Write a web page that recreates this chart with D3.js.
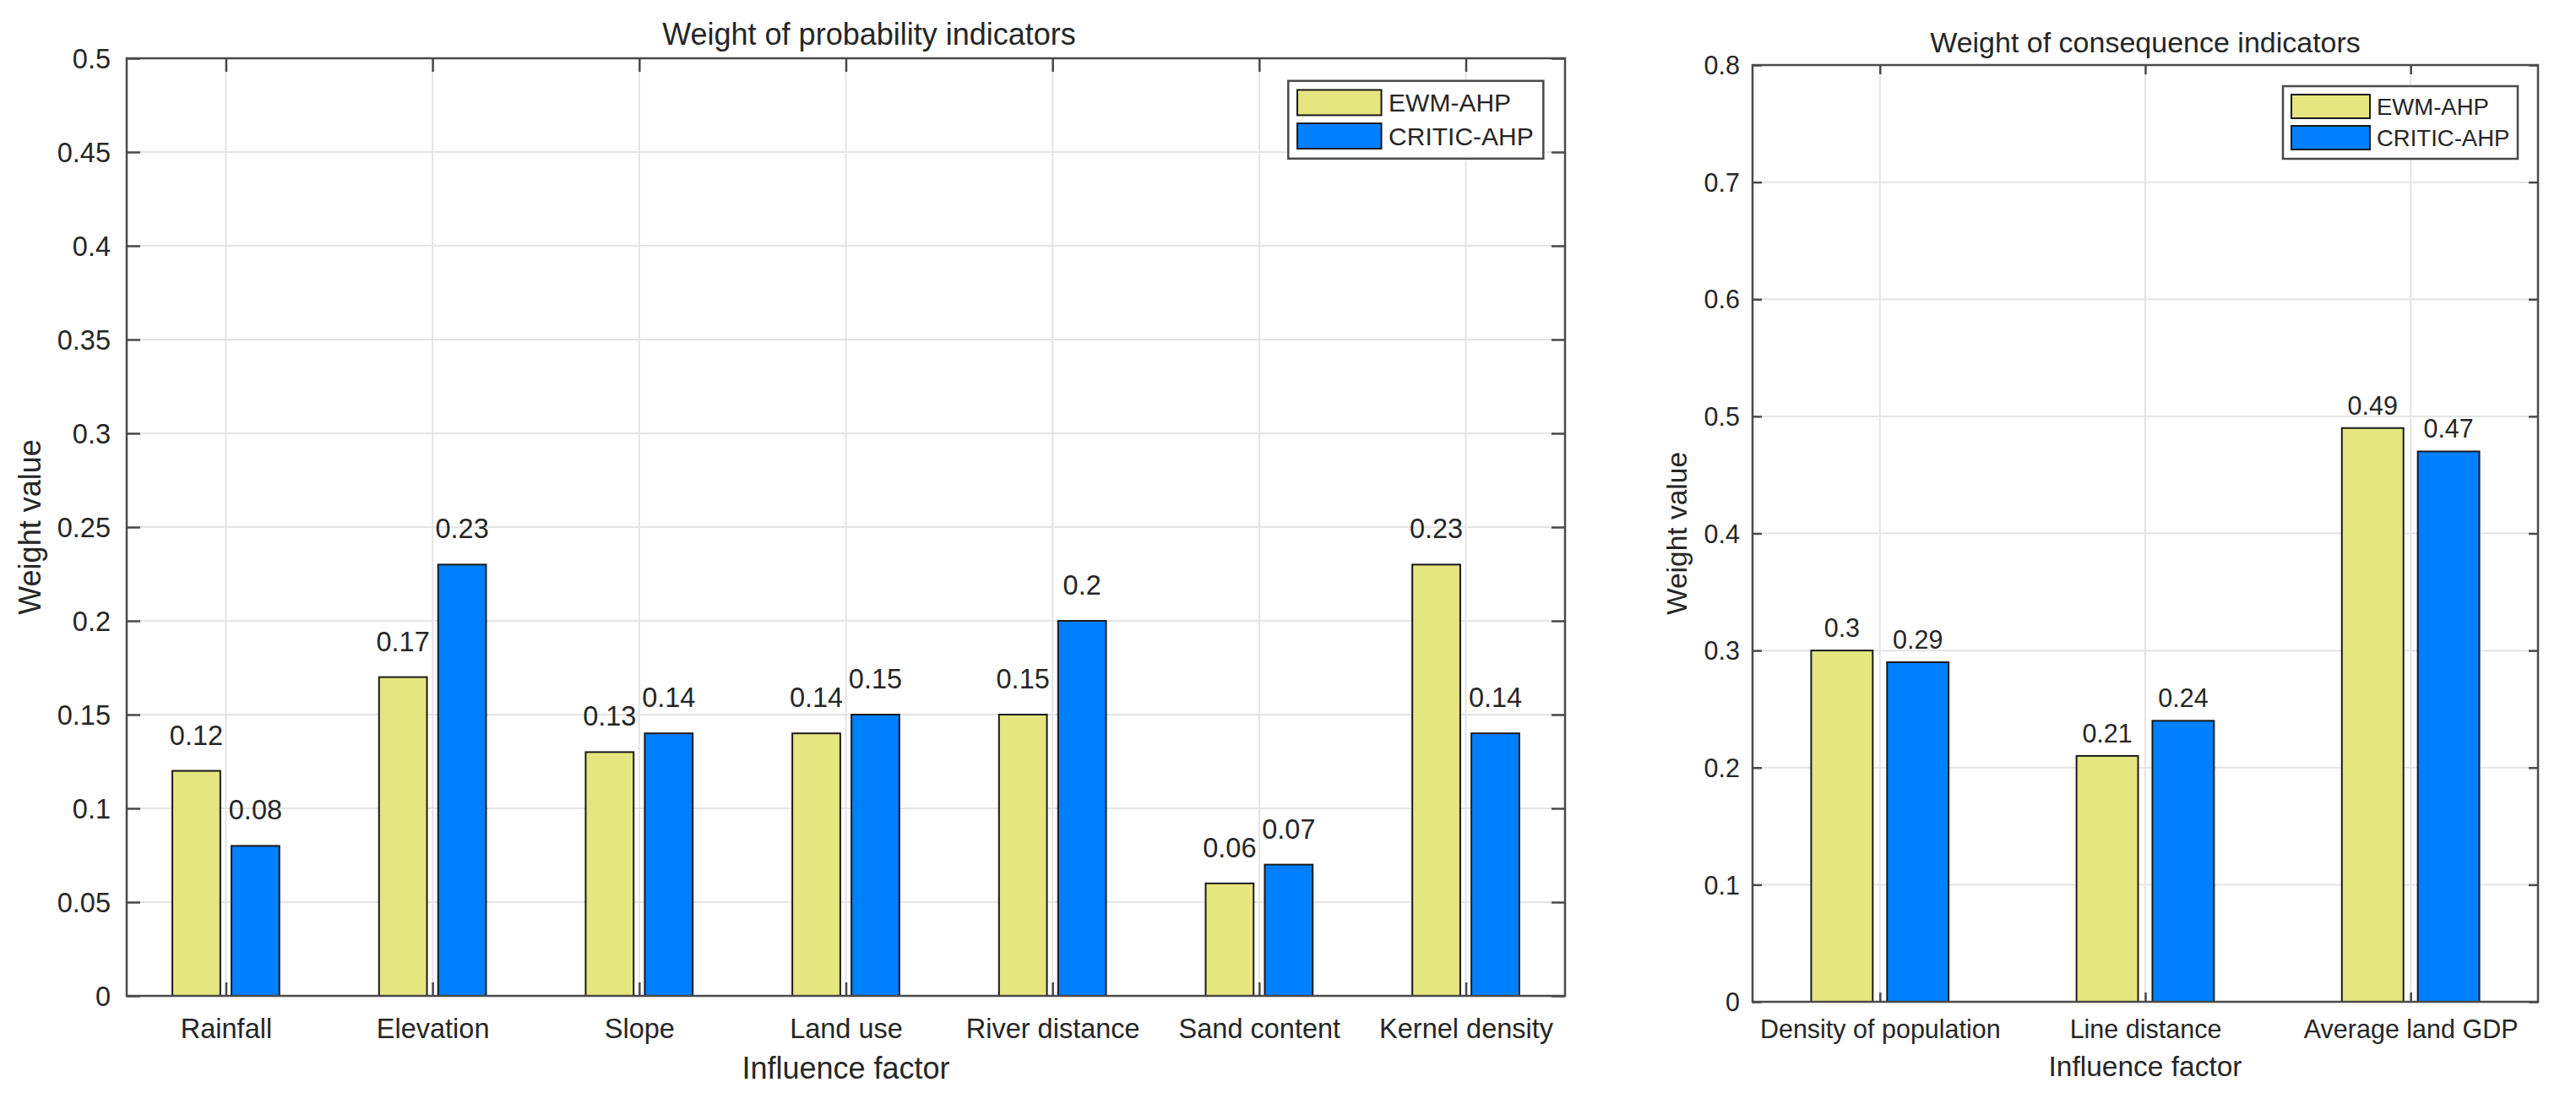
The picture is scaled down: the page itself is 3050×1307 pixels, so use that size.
<!DOCTYPE html>
<html>
<head>
<meta charset="utf-8">
<script src="https://cdn.jsdelivr.net/npm/d3@7"></script>
<style>
  body { margin: 0; background: #ffffff; }
  svg text { font-family: "Liberation Sans", Arial, sans-serif; fill: #262626; }
</style>
</head>
<body>
<svg id="chart" width="3050" height="1307"></svg>
<script>
// ---- data ----
const seriesNames = ["EWM-AHP", "CRITIC-AHP"];
const seriesColors = ["#e6e680", "#0080ff"];

const probCategories = ["Rainfall", "Elevation", "Slope", "Land use", "River distance", "Sand content", "Kernel density"];
const probEwm = [0.12, 0.17, 0.13, 0.14, 0.15, 0.06, 0.23];
const probCritic = [0.08, 0.23, 0.14, 0.15, 0.2, 0.07, 0.14];
const probTicks = [0, 0.05, 0.1, 0.15, 0.2, 0.25, 0.3, 0.35, 0.4, 0.45, 0.5];

const consCategories = ["Density of population", "Line distance", "Average land GDP"];
const consEwm = [0.3, 0.21, 0.49];
const consCritic = [0.29, 0.24, 0.47];
const consTicks = [0, 0.1, 0.2, 0.3, 0.4, 0.5, 0.6, 0.7, 0.8];

const svg = d3.select("#chart");

// MATLAB-like grouped bar chart (box on, grid on, ticks pointing in)
function drawChart(cfg) {
  const axisColor = "#4a4a4a";
  const n = cfg.categories.length;
  const yMax = d3.max(cfg.ticks);

  const x = d3.scaleLinear().domain([0.52, n + 0.48]).range([cfg.left, cfg.right]);
  const y = d3.scaleLinear().domain([0, yMax]).range([cfg.bottom, cfg.top]);

  const g = svg.append("g").attr("class", "panel");

  // grid
  g.append("g").selectAll("line.hgrid")
    .data(cfg.ticks)
    .enter().append("line")
    .attr("x1", cfg.left).attr("x2", cfg.right)
    .attr("y1", d => y(d)).attr("y2", d => y(d))
    .attr("stroke", "#e4e4e4").attr("stroke-width", 2);

  g.append("g").selectAll("line.vgrid")
    .data(d3.range(1, n + 1))
    .enter().append("line")
    .attr("x1", d => x(d)).attr("x2", d => x(d))
    .attr("y1", cfg.top).attr("y2", cfg.bottom)
    .attr("stroke", "#e4e4e4").attr("stroke-width", 2);

  // bars: two series, offset either side of the category
  const offsets = [-0.143, 0.143];
  const barW = x(1 + 0.232) - x(1);
  const series = [cfg.ewm, cfg.critic];

  series.forEach((vals, s) => {
    g.append("g").selectAll("rect")
      .data(vals)
      .enter().append("rect")
      .attr("x", (d, i) => x(i + 1 + offsets[s]) - barW / 2)
      .attr("y", d => y(d))
      .attr("width", barW)
      .attr("height", d => y(0) - y(d))
      .attr("fill", seriesColors[s])
      .attr("stroke", "#1a1a1a")
      .attr("stroke-width", 2);

    // value labels on top of each bar
    g.append("g").selectAll("text")
      .data(vals)
      .enter().append("text")
      .attr("x", (d, i) => x(i + 1 + offsets[s]))
      .attr("y", d => y(d) - cfg.valueGap)
      .attr("text-anchor", "middle")
      .attr("font-size", cfg.tickFont)
      .text(d => String(d));
  });

  // axes, ticks drawn inward like MATLAB
  const yAxisL = d3.axisLeft(y).tickValues(cfg.ticks).tickSizeInner(-cfg.tickLen).tickSizeOuter(0)
    .tickPadding(cfg.yTickPad).tickFormat(d => String(d));
  const yAxisR = d3.axisRight(y).tickValues(cfg.ticks).tickSizeInner(-cfg.tickLen).tickSizeOuter(0).tickFormat("");
  const xAxisB = d3.axisBottom(x).tickValues(d3.range(1, n + 1)).tickSizeInner(-cfg.tickLen).tickSizeOuter(0)
    .tickFormat(d => cfg.categories[d - 1]);
  const xAxisT = d3.axisTop(x).tickValues(d3.range(1, n + 1)).tickSizeInner(-cfg.tickLen).tickSizeOuter(0).tickFormat("");

  const axL = g.append("g").attr("transform", `translate(${cfg.left},0)`).call(yAxisL);
  const axR = g.append("g").attr("transform", `translate(${cfg.right},0)`).call(yAxisR);
  const axB = g.append("g").attr("transform", `translate(0,${cfg.bottom})`).call(xAxisB);
  const axT = g.append("g").attr("transform", `translate(0,${cfg.top})`).call(xAxisT);

  [axL, axR, axB, axT].forEach(a => {
    a.select(".domain").remove();
    a.attr("font-family", null).attr("font-size", cfg.tickFont);
    a.selectAll(".tick line").attr("stroke", axisColor).attr("stroke-width", 2.5);
    a.selectAll(".tick text").attr("fill", "#262626");
  });
  axL.selectAll(".tick text").attr("dy", "0.35em");
  axB.selectAll(".tick text").attr("y", cfg.xLabelY - cfg.bottom).attr("dy", null);

  // axes box
  g.append("rect")
    .attr("x", cfg.left).attr("y", cfg.top)
    .attr("width", cfg.right - cfg.left).attr("height", cfg.bottom - cfg.top)
    .attr("fill", "none").attr("stroke", axisColor).attr("stroke-width", 2.5);

  // titles
  g.append("text")
    .attr("x", cfg.titleX).attr("y", cfg.titleY)
    .attr("text-anchor", "middle").attr("font-size", cfg.titleFont)
    .text(cfg.title);

  g.append("text")
    .attr("x", (cfg.left + cfg.right) / 2).attr("y", cfg.axisLabelY)
    .attr("text-anchor", "middle").attr("font-size", cfg.labelFont)
    .text("Influence factor");

  g.append("text")
    .attr("transform", `translate(${cfg.yLabelX},${(cfg.top + cfg.bottom) / 2}) rotate(-90)`)
    .attr("text-anchor", "middle").attr("font-size", cfg.labelFont)
    .text("Weight value");

  // legend box in the upper right corner
  const s = cfg.legendScale;
  const lw = cfg.legendWidth, lh = 86 * s;
  const lx = cfg.right - 24 * s - lw;
  const ly = cfg.top + 25 * s;
  const legend = g.append("g").attr("transform", `translate(${lx},${ly})`);

  legend.append("rect")
    .attr("width", lw).attr("height", lh)
    .attr("fill", "#ffffff").attr("stroke", axisColor).attr("stroke-width", 2.5);

  seriesNames.forEach((name, i) => {
    const rowY = 10 * s + i * 37 * s;
    legend.append("rect")
      .attr("x", 10 * s).attr("y", rowY)
      .attr("width", 93 * s).attr("height", 28 * s)
      .attr("fill", seriesColors[i]).attr("stroke", "#1a1a1a").attr("stroke-width", 2);
    legend.append("text")
      .attr("x", 10 * s + 93 * s + 8 * s)
      .attr("y", rowY + 14 * s + cfg.legendFont * 0.36)
      .attr("font-size", cfg.legendFont)
      .text(name);
  });
}

drawChart({
  title: "Weight of probability indicators",
  categories: probCategories, ewm: probEwm, critic: probCritic, ticks: probTicks,
  left: 150, right: 1853, top: 69, bottom: 1179,
  tickFont: 32.5, labelFont: 36, titleFont: 36,
  titleX: 1029, titleY: 53, xLabelY: 1229, axisLabelY: 1277, yLabelX: 48,
  tickLen: 16, yTickPad: 19, valueGap: 31,
  legendScale: 1.07, legendWidth: 302, legendFont: 30
});

drawChart({
  title: "Weight of consequence indicators",
  categories: consCategories, ewm: consEwm, critic: consCritic, ticks: consTicks,
  left: 2075, right: 3005, top: 77, bottom: 1186,
  tickFont: 30.5, labelFont: 33.5, titleFont: 34,
  titleX: 2540, titleY: 62, xLabelY: 1229, axisLabelY: 1274, yLabelX: 1997,
  tickLen: 11, yTickPad: 15, valueGap: 16,
  legendScale: 1.0, legendWidth: 278, legendFont: 27.5
});
</script>
</body>
</html>
